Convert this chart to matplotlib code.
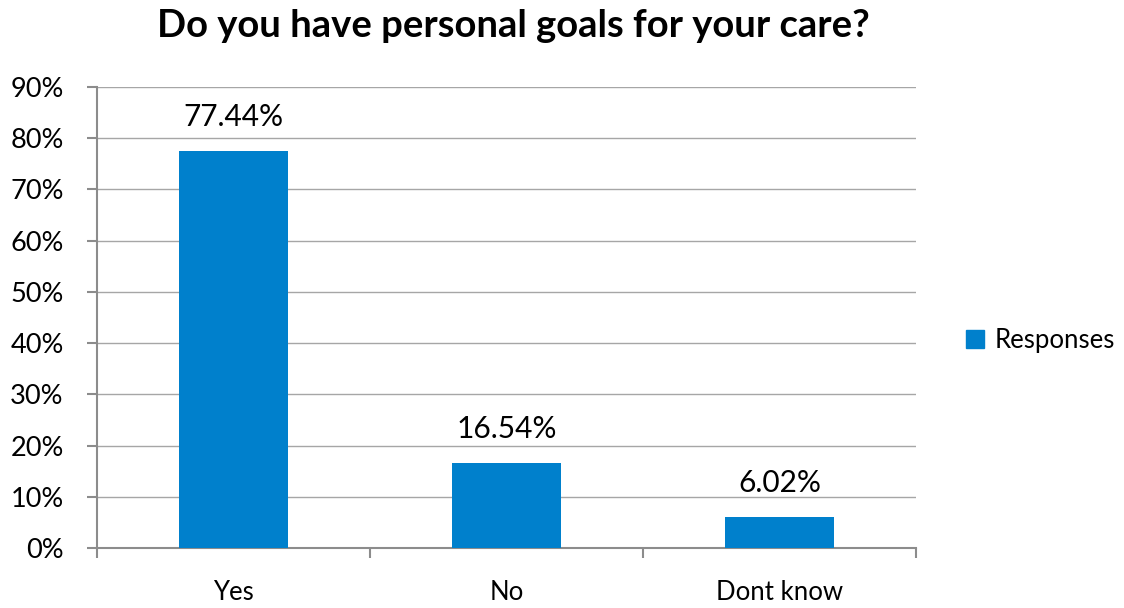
import matplotlib
matplotlib.use("Agg")
import matplotlib.pyplot as plt
from matplotlib.ticker import PercentFormatter, FixedLocator, NullFormatter
from matplotlib.patches import Patch

categories = ["Yes", "No", "Dont know"]
responses = [77.44, 16.54, 6.02]
yticks = [0, 10, 20, 30, 40, 50, 60, 70, 80, 90]

plt.rcParams['font.family'] = ['Lato', 'DejaVu Sans']

fig = plt.figure(figsize=(11.24, 6.08), dpi=100)
ax = fig.add_axes([0.0863, 0.0987, 0.7287, 0.7583])

x = list(range(len(categories)))
bars = ax.bar(x, responses, width=0.4, color="#0080CC", zorder=3)

for xi, v in zip(x, responses):
    ax.text(xi, v + 4.0, f"{v:.2f}%", ha="center", va="bottom", fontsize=21.5, color="black")

ax.set_xlim(-0.5, len(categories) - 0.5)
ax.set_ylim(0, 90)
ax.set_yticks(yticks)
ax.yaxis.set_major_formatter(PercentFormatter(decimals=0))
ax.yaxis.grid(True, color="#a6a6a6", linewidth=1, zorder=0)

# category labels centred, ticks at category boundaries
ax.xaxis.set_major_locator(FixedLocator([-0.5, 0.5, 1.5, 2.5]))
ax.xaxis.set_major_formatter(NullFormatter())
ax.xaxis.set_minor_locator(FixedLocator(x))
ax.set_xticklabels(categories, minor=True)
ax.tick_params(axis="x", which="minor", length=0, pad=23, labelsize=18.5)
ax.tick_params(axis="x", which="major", length=7, width=1.5, color="#8c8c8c", direction="out")
ax.tick_params(axis="y", length=7, width=1.5, color="#8c8c8c", labelsize=19.5, pad=17)

for s in ["top", "right"]:
    ax.spines[s].set_visible(False)
for s in ["left", "bottom"]:
    ax.spines[s].set_color("#8c8c8c")
    ax.spines[s].set_linewidth(1.5)

fig.suptitle("Do you have personal goals for your care?", x=0.457, y=0.985,
             fontsize=27.5, fontweight="bold")

fig.legend(handles=[Patch(color="#0080CC", label="Responses")], loc="center left",
           bbox_to_anchor=(0.839, 0.44), frameon=False, fontsize=18.5,
           handlelength=0.7, handleheight=0.7, handletextpad=0.4)

fig.savefig("out.png", dpi=100)
